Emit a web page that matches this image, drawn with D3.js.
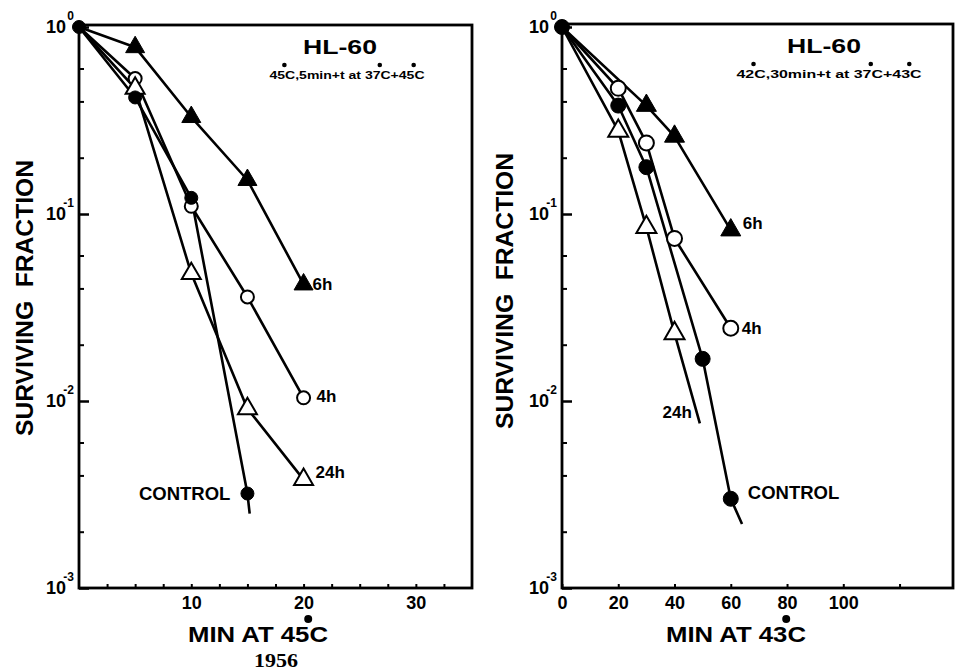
<!DOCTYPE html>
<html lang="en">
<head>
<meta charset="UTF-8">
<title>HL-60 surviving fraction</title>
<script src="https://d3js.org/d3.v7.min.js"></script>
<style>
  body { margin: 0; background: #fff; }
  svg { display: block; font-family: "Liberation Sans", Arial, sans-serif; font-weight: bold; }
</style>
</head>
<body>
<div id="chart"></div>
<script>
// shared log axis
const decades = [1, 0.1, 0.01, 0.001];
const decadeExponents = ["0", "-1", "-2", "-3"];
const minorTicks = [0.6, 0.4, 0.2, 0.06, 0.04, 0.02, 0.006, 0.004, 0.002];

// left panel: 45C, 5 min + t at 37C -> 45C
const leftXTicks = [2.5, 5, 7.5, 10, 12.5, 15, 17.5, 20, 22.5, 25, 27.5, 30, 32.5];
const leftXLabels = [10, 20, 30];
const left6hTimes = [0, 5, 10, 15, 20];
const left6h = [1, 0.78, 0.33, 0.152, 0.042];
const left4hTimes = [0, 5, 10, 15, 20];
const left4h = [1, 0.53, 0.11, 0.036, 0.0104];
const left24hTimes = [0, 5, 10, 15, 20];
const left24h = [1, 0.47, 0.048, 0.0091, 0.0038];
const leftControlTimes = [0, 5, 10, 15];
const leftControl = [1, 0.42, 0.122, 0.0032];
const leftControlTail = [15.2, 0.0025];

// right panel: 42C, 30 min + t at 37C -> 43C
const rightXTicks = [0, 20, 40, 60, 80, 100, 120];
const rightXLabels = [0, 20, 40, 60, 80, 100];
const right6hTimes = [0, 30, 40, 60];
const right6h = [1, 0.38, 0.26, 0.082];
const right4hTimes = [0, 20, 30, 40, 60];
const right4h = [1, 0.47, 0.24, 0.074, 0.0245];
const right24hTimes = [0, 20, 30, 40];
const right24h = [1, 0.278, 0.085, 0.023];
const right24hTail = [49, 0.0076];
const rightControlTimes = [0, 20, 30, 50, 60];
const rightControl = [1, 0.38, 0.178, 0.0168, 0.0030];
const rightControlTail = [64, 0.0022];

const width = 967, height = 672;
const yTop = 27, yBottom = 588;

const svg = d3.select("#chart").append("svg")
  .attr("width", width)
  .attr("height", height);

function pairs(times, vals) {
  return times.map((t, i) => [t, vals[i]]);
}

// writes the text without "°", then puts a raised dot just before each following char
function degreeText(g, sel, str, r, rise) {
  const idx = [];
  let plain = "";
  for (const ch of str) {
    if (ch === "°") idx.push(plain.length);
    else plain += ch;
  }
  sel.text(plain);
  const node = sel.node();
  idx.forEach(i => {
    const pt = node.getStartPositionOfChar(i);
    g.append("circle")
      .attr("cx", pt.x - r * 0.3)
      .attr("cy", pt.y - rise)
      .attr("r", r)
      .attr("fill", "#000");
  });
}

const panels = [
  {
    left: 79, right: 472, top: 25, xDomain: [0, 35],
    xTicks: leftXTicks, xLabels: leftXLabels, markR: 6.5, triSide: 19,
    series: [
      { pts: pairs(left6hTimes, left6h), marker: "filledTri", label: "6h", dx: 9, dy: 0, anchor: "start" },
      { pts: pairs(left4hTimes, left4h), marker: "openCircle", label: "4h", dx: 13, dy: -2, anchor: "start" },
      { pts: pairs(left24hTimes, left24h), marker: "openTri", label: "24h", dx: 12, dy: -8, anchor: "start" },
      { pts: pairs(leftControlTimes, leftControl), tail: leftControlTail, marker: "filledCircle", label: "CONTROL", dx: -17, dy: 0, anchor: "end" }
    ],
    title: [340, 54], subtitle: "45°C,5min+t at 37°C+45°C", subPos: [347, 79], subLen: 155,
    xLabel: "MIN AT 45°C", xLabelX: 258, yLabelX: 33, yLabelY: 298
  },
  {
    left: 562, right: 953, top: 24, xDomain: [0, 139],
    xTicks: rightXTicks, xLabels: rightXLabels, markR: 7.5, triSide: 20,
    series: [
      { pts: pairs(right6hTimes, right6h), marker: "filledTri", label: "6h", dx: 12, dy: -7, anchor: "start" },
      { pts: pairs(right4hTimes, right4h), marker: "openCircle", label: "4h", dx: 11, dy: 0, anchor: "start" },
      { pts: pairs(right24hTimes, right24h), tail: right24hTail, marker: "openTri", label: "24h", dx: -8, dy: -11, anchor: "end", atTail: true },
      { pts: pairs(rightControlTimes, rightControl), tail: rightControlTail, marker: "filledCircle", label: "CONTROL", dx: 17, dy: -6, anchor: "start" }
    ],
    title: [824, 53], subtitle: "42°C,30min+t at 37°C+43°C", subPos: [829, 78], subLen: 185,
    xLabel: "MIN AT 43°C", xLabelX: 736, yLabelX: 513, yLabelY: 291
  }
];

panels.forEach(p => {
  const x = d3.scaleLinear().domain(p.xDomain).range([p.left, p.right]);
  const y = d3.scaleLog().domain([1, 0.001]).range([yTop, yBottom]);
  const g = svg.append("g");

  // frame
  g.append("rect")
    .attr("x", p.left).attr("y", p.top)
    .attr("width", p.right - p.left).attr("height", yBottom - p.top)
    .attr("fill", "none").attr("stroke", "#000").attr("stroke-width", 2.8);

  // y axis, major ticks with 10^n labels
  const yMajor = g.append("g")
    .attr("transform", `translate(${p.left},0)`)
    .call(d3.axisLeft(y).tickValues(decades).tickSize(-10).tickPadding(13).tickFormat(() => "10"))
    .attr("font-size", 18).attr("font-family", null);
  yMajor.select(".domain").remove();
  yMajor.selectAll(".tick line").attr("stroke-width", 2.5);
  yMajor.selectAll(".tick").append("text")
    .attr("x", -5).attr("y", -8)
    .attr("text-anchor", "end")
    .attr("font-size", 12)
    .attr("fill", "#000")
    .text((d, i) => decadeExponents[i]);

  const yMinor = g.append("g")
    .attr("transform", `translate(${p.left},0)`)
    .call(d3.axisLeft(y).tickValues(minorTicks).tickSize(-5).tickFormat(""));
  yMinor.select(".domain").remove();
  yMinor.selectAll(".tick line").attr("stroke-width", 2);

  // x axis
  const xAxis = g.append("g")
    .attr("transform", `translate(0,${yBottom})`)
    .call(d3.axisBottom(x).tickValues(p.xTicks).tickSize(-4).tickPadding(8)
      .tickFormat(d => p.xLabels.includes(d) ? d : ""))
    .attr("font-size", 18).attr("font-family", null);
  xAxis.select(".domain").remove();
  xAxis.selectAll(".tick line").attr("stroke-width", 2);

  // curves
  const line = d3.line().x(d => x(d[0])).y(d => y(d[1]));
  p.series.forEach(s => {
    const pts = s.tail ? s.pts.concat([s.tail]) : s.pts;
    g.append("path").attr("d", line(pts))
      .attr("fill", "none").attr("stroke", "#000")
      .attr("stroke-width", 2.6).attr("stroke-linejoin", "round");
  });

  // markers (origin drawn once, as filled circle from the control series)
  p.series.forEach(s => {
    const pts = s.marker === "filledCircle" ? s.pts : s.pts.slice(1);
    const tri = s.marker.endsWith("Tri");
    const size = tri ? p.triSide * p.triSide * Math.sqrt(3) / 4 : Math.PI * p.markR * p.markR;
    const open = s.marker.startsWith("open");
    g.selectAll(null).data(pts).join("path")
      .attr("transform", d => `translate(${x(d[0])},${y(d[1])})`)
      .attr("d", d3.symbol().type(tri ? d3.symbolTriangle : d3.symbolCircle).size(size))
      .attr("fill", open ? "#fff" : "#000")
      .attr("stroke", "#000")
      .attr("stroke-width", open ? 2 : 1);

    const end = s.atTail ? s.tail : s.pts[s.pts.length - 1];
    g.append("text")
      .attr("x", x(end[0]) + s.dx)
      .attr("y", y(end[1]) + s.dy + 6)
      .attr("text-anchor", s.anchor)
      .attr("font-size", s.label === "CONTROL" ? 18.5 : 17)
      .text(s.label);
  });

  // titles
  g.append("text")
    .attr("x", p.title[0]).attr("y", p.title[1])
    .attr("text-anchor", "middle")
    .attr("font-size", 20)
    .attr("textLength", 74).attr("lengthAdjust", "spacingAndGlyphs")
    .text("HL-60");

  const sub = g.append("text")
    .attr("x", p.subPos[0]).attr("y", p.subPos[1])
    .attr("text-anchor", "middle")
    .attr("font-size", 11.5)
    .attr("textLength", p.subLen).attr("lengthAdjust", "spacingAndGlyphs");
  degreeText(g, sub, p.subtitle, 2.3, 14);

  const xl = g.append("text")
    .attr("x", p.xLabelX).attr("y", 642)
    .attr("text-anchor", "middle")
    .attr("font-size", 22)
    .attr("textLength", 140).attr("lengthAdjust", "spacingAndGlyphs");
  degreeText(g, xl, p.xLabel, 4, 23);

  g.append("text")
    .attr("transform", `translate(${p.yLabelX},${p.yLabelY}) rotate(-90)`)
    .attr("text-anchor", "middle")
    .attr("font-size", 24)
    .attr("textLength", 276).attr("lengthAdjust", "spacingAndGlyphs")
    .attr("xml:space", "preserve")
    .text("SURVIVING  FRACTION");
});

svg.append("text")
  .attr("x", 276).attr("y", 667)
  .attr("text-anchor", "middle")
  .attr("font-family", "'Liberation Serif', 'Times New Roman', serif")
  .attr("font-size", 18)
  .attr("textLength", 44).attr("lengthAdjust", "spacingAndGlyphs")
  .text("1956");
</script>
</body>
</html>
